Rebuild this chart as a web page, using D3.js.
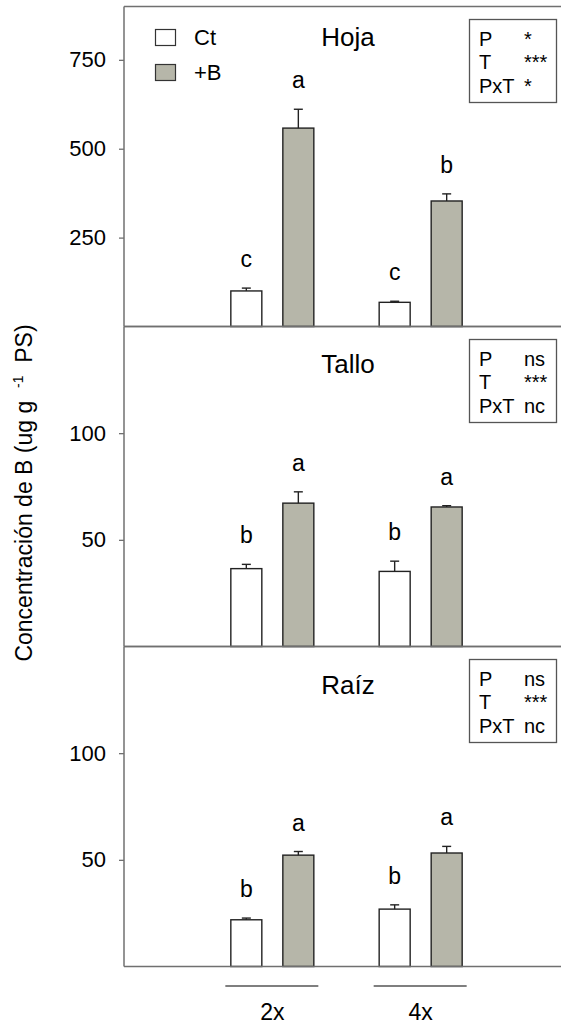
<!DOCTYPE html>
<html>
<head>
<meta charset="utf-8">
<script src="https://cdn.jsdelivr.net/npm/d3@7"></script>
<style>
body { margin: 0; background: #fff; }
text { font-family: Arial, "Liberation Sans", sans-serif; fill: #000; }
</style>
</head>
<body>
<div id="chart"></div>
<script>
// values, order: 2x Ct, 2x +B, 4x Ct, 4x +B
var groups = ["2x", "4x"];
var treatments = ["Ct", "+B"];
var panelNames = ["Hoja", "Tallo", "Raíz"];
var yMax = [900, 150, 150];
var yTicks = [[250, 500, 750], [50, 100], [50, 100]];

var hojaMean = [100, 558, 68, 353];
var hojaErr = [8, 53, 3, 20];
var hojaLetters = ["c", "a", "c", "b"];

var talloMean = [36.5, 67.2, 35.2, 65.4];
var talloErr = [2, 5.3, 4.8, 0.6];
var talloLetters = ["b", "a", "b", "a"];

var raizMean = [21.9, 52.2, 26.9, 53.2];
var raizErr = [0.8, 1.7, 2, 3.1];
var raizLetters = ["b", "a", "b", "a"];

var statLabels = ["P", "T", "PxT"];
var hojaStats = ["*", "***", "*"];
var talloStats = ["ns", "***", "nc"];
var raizStats = ["ns", "***", "nc"];

var panelMeans = [hojaMean, talloMean, raizMean];
var panelErrs = [hojaErr, talloErr, raizErr];
var panelLetters = [hojaLetters, talloLetters, raizLetters];
var panelStats = [hojaStats, talloStats, raizStats];

// layout
var width = 561, height = 1025;
var left = 124, right = 569, top0 = 6.5, panelH = 320;
var titleOffset = [39, 46, 47];
var frameColour = "#707070";
var fills = {"Ct": "#ffffff", "+B": "#b6b6a9"};

var svg = d3.select("#chart").append("svg").attr("width", width).attr("height", height);
svg.append("rect").attr("width", width).attr("height", height).attr("fill", "#fff");

var x = d3.scalePoint().domain(groups).range([left, right]).padding(1);
var xt = d3.scaleBand().domain(treatments).range([-41.5, 41.5]).paddingInner(0.404);

panelNames.forEach(function(name, i) {
	var top = top0 + i * panelH, bottom = top + panelH;
	var y = d3.scaleLinear().domain([0, yMax[i]]).range([bottom, top]);
	var g = svg.append("g");

	var rows = [];
	groups.forEach(function(gr, gi) {
		treatments.forEach(function(tr, ti) {
			var k = gi * 2 + ti;
			rows.push({group: gr, treat: tr, mean: panelMeans[i][k], err: panelErrs[i][k], letter: panelLetters[i][k]});
		});
	});

	// axis
	var ax = g.append("g").attr("transform", "translate(" + left + ",0)")
		.call(d3.axisLeft(y).tickValues(yTicks[i]).tickSize(5).tickSizeOuter(0).tickPadding(13));
	ax.select(".domain").remove();
	ax.selectAll(".tick line").attr("stroke", frameColour).attr("stroke-width", 1.3);
	ax.selectAll(".tick text").style("font-size", "22px").attr("fill", "#000");

	// bars
	g.selectAll(".bar").data(rows).enter().append("rect").attr("class", "bar")
		.attr("x", function(d) { return x(d.group) + xt(d.treat); })
		.attr("y", function(d) { return y(d.mean); })
		.attr("width", xt.bandwidth())
		.attr("height", function(d) { return bottom - y(d.mean); })
		.attr("fill", function(d) { return fills[d.treat]; })
		.attr("stroke", "#222").attr("stroke-width", 1.4);

	// error bars (upper only)
	rows.forEach(function(d) {
		var cx = x(d.group) + xt(d.treat) + xt.bandwidth() / 2;
		g.append("line").attr("x1", cx).attr("x2", cx).attr("y1", y(d.mean)).attr("y2", y(d.mean + d.err))
			.attr("stroke", "#222").attr("stroke-width", 1.4);
		g.append("line").attr("x1", cx - 4.5).attr("x2", cx + 4.5).attr("y1", y(d.mean + d.err)).attr("y2", y(d.mean + d.err))
			.attr("stroke", "#222").attr("stroke-width", 1.4);
		g.append("text").attr("x", cx).attr("y", y(d.mean + d.err) - 21)
			.attr("text-anchor", "middle").style("font-size", "23px").text(d.letter);
	});

	// frame lines
	g.append("line").attr("x1", left).attr("x2", right).attr("y1", top).attr("y2", top)
		.attr("stroke", frameColour).attr("stroke-width", 1.5);
	g.append("line").attr("x1", left).attr("x2", right).attr("y1", bottom).attr("y2", bottom)
		.attr("stroke", frameColour).attr("stroke-width", 1.5);
	g.append("line").attr("x1", left).attr("x2", left).attr("y1", top).attr("y2", bottom)
		.attr("stroke", frameColour).attr("stroke-width", 1.5);

	// title
	g.append("text").attr("x", 348).attr("y", top + titleOffset[i]).attr("text-anchor", "middle")
		.style("font-size", "26px").text(name);

	// stats box
	g.append("rect").attr("x", 469.5).attr("y", top + 13).attr("width", 87).attr("height", 83)
		.attr("fill", "#fff").attr("stroke", "#555").attr("stroke-width", 1.3);
	statLabels.forEach(function(s, j) {
		var by = top + 39 + j * 23.8;
		g.append("text").attr("x", 479).attr("y", by).style("font-size", "20px").text(s);
		g.append("text").attr("x", 524).attr("y", by).style("font-size", "20px").text(panelStats[i][j]);
	});
});

// legend
var legend = svg.append("g").attr("transform", "translate(155.5,29.5)");
treatments.forEach(function(t, i) {
	legend.append("rect").attr("x", 0).attr("y", i * 35).attr("width", 20).attr("height", 16)
		.attr("fill", fills[t]).attr("stroke", "#333").attr("stroke-width", 1.2);
	legend.append("text").attr("x", 38.5).attr("y", i * 35 + 15.5).style("font-size", "22px").text(t);
});

// group labels under the x axis
var bottomY = top0 + 3 * panelH;
groups.forEach(function(gr) {
	svg.append("line").attr("x1", x(gr) - 47).attr("x2", x(gr) + 46).attr("y1", bottomY + 19.5).attr("y2", bottomY + 19.5)
		.attr("stroke", "#555").attr("stroke-width", 1.3);
	svg.append("text").attr("x", x(gr)).attr("y", bottomY + 53).attr("text-anchor", "middle")
		.style("font-size", "23px").text(gr);
});

// y label
var yl = svg.append("text").attr("transform", "translate(32," + 493 + ") rotate(-90)")
	.attr("text-anchor", "middle").style("font-size", "23px");
yl.append("tspan").text("Concentración de B (ug g\u00a0 ");
yl.append("tspan").attr("dy", -9).style("font-size", "14px").text("-1");
yl.append("tspan").attr("dy", 9).text("\u00a0 PS)");
</script>
</body>
</html>
